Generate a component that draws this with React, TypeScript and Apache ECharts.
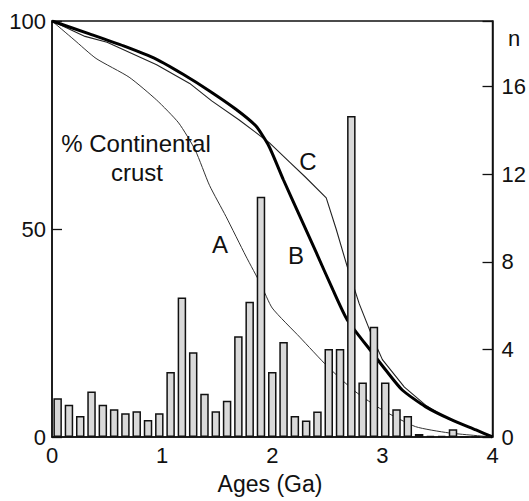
import React, { useEffect, useRef } from "react";
import * as echarts from "echarts";

// Histogram bins (Ga) and counts n
const ageBins = [
  "0.0","0.1","0.2","0.3","0.4","0.5","0.6","0.7","0.8","0.9",
  "1.0","1.1","1.2","1.3","1.4","1.5","1.6","1.7","1.8","1.9",
  "2.0","2.1","2.2","2.3","2.4","2.5","2.6","2.7","2.8","2.9",
  "3.0","3.1","3.2","3.3","3.4","3.5","3.6","3.7","3.8",
];
const counts = [
  1.77, 1.47, 0.96, 2.08, 1.47, 1.27, 1.09, 1.18, 0.78, 1.09,
  2.97, 6.37, 3.87, 1.97, 1.18, 1.66, 4.6, 6.18, 10.97, 2.97,
  4.34, 0.96, 0.75, 1.16, 4.02, 4.02, 14.66, 2.49, 5.03, 2.49,
  1.27, 0.96, 0.14, 0.05, 0.05, 0.35, 0, 0, 0,
];

// % continental crust curves [age Ga, %]
const curveA = [
  [0, 100], [0.2, 95.5], [0.4, 91], [0.7, 86.5], [0.95, 81], [1.15, 75.5],
  [1.3, 69], [1.43, 60.5], [1.58, 53], [1.76, 43.5], [1.9, 36.5],
  [2.0, 31], [2.25, 24], [2.5, 17], [2.75, 11], [3.0, 6.5], [3.3, 2.5],
  [3.6, 1], [4, 0],
];
const curveB = [
  [0, 100], [0.34, 96.9], [0.65, 94], [0.95, 90.8], [1.19, 87.2],
  [1.43, 83.2], [1.67, 78.8], [1.85, 74.8], [1.97, 69.9], [2.1, 61.9],
  [2.25, 53.1], [2.4, 44.3], [2.55, 35.4], [2.68, 28.2], [2.91, 20.2],
  [3.03, 16.1], [3.18, 11.3], [3.39, 7.3], [3.63, 4.1], [3.85, 1.7], [4, 0],
];
const curveC = [
  [0, 100], [0.3, 96.3], [0.5, 94.9], [0.95, 89.5], [1.25, 85], [1.45, 80.8],
  [1.7, 76.2], [1.97, 70.8], [2.16, 66], [2.3, 62.5], [2.49, 57.5],
  [2.58, 50], [2.68, 41], [2.79, 32], [2.91, 24], [3.0, 18.6], [3.2, 12],
  [3.4, 7.5], [3.6, 4.3], [3.85, 1.7], [4, 0],
];

const FONT = "'Liberation Sans', Arial, Helvetica, sans-serif";

export default function App() {
  const ref = useRef<HTMLDivElement>(null);
  useEffect(() => {
    if (!ref.current) return;
    const chart = echarts.init(ref.current, undefined, { renderer: "svg" });
    const lineCommon = {
      type: "line",
      xAxisIndex: 0,
      yAxisIndex: 0,
      showSymbol: false,
      symbol: "none",
      z: 1,
    };
    const txt = (text: string, x: number, y: number, size: number) => ({
      type: "text",
      x,
      y,
      z: 10,
      style: { text, font: `${size}px ${FONT}`, fill: "#111", textAlign: "center", textVerticalAlign: "middle" },
    });
    chart.setOption({
      animation: false,
      backgroundColor: "#ffffff",
      grid: {
        left: 52,
        right: 34,
        top: 21,
        bottom: 64,
        show: true,
        borderColor: "#111",
        borderWidth: 1.5,
      },
      xAxis: [
        {
          type: "value",
          min: 0,
          max: 4,
          interval: 1,
          axisLine: { show: true, lineStyle: { color: "#111", width: 1.5 } },
          axisTick: { show: false },
          splitLine: { show: false },
          axisLabel: { color: "#111", fontSize: 22, fontFamily: FONT, margin: 7 },
        },
        {
          type: "category",
          data: ageBins,
          show: false,
          boundaryGap: true,
        },
      ],
      yAxis: [
        {
          type: "value",
          min: 0,
          max: 100,
          interval: 50,
          position: "left",
          axisLine: { show: true, lineStyle: { color: "#111", width: 1.5 } },
          axisTick: { show: true, inside: true, length: 10, lineStyle: { color: "#111", width: 1.3 } },
          splitLine: { show: false },
          axisLabel: { color: "#111", fontSize: 22, fontFamily: FONT, margin: 6 },
        },
        {
          type: "value",
          min: 0,
          max: 19,
          interval: 4,
          position: "right",
          axisLine: { show: true, lineStyle: { color: "#111", width: 1.5 } },
          axisTick: { show: true, inside: true, length: 10, lineStyle: { color: "#111", width: 1.3 } },
          splitLine: { show: false },
          axisLabel: {
            color: "#111",
            fontSize: 22,
            fontFamily: FONT,
            margin: 9,
            formatter: (v: number) => (v % 4 === 0 ? String(v) : ""),
          },
        },
      ],
      series: [
        { ...lineCommon, name: "A", smooth: 0.2, data: curveA, lineStyle: { color: "#333", width: 1 } },
        { ...lineCommon, name: "C", data: curveC, lineStyle: { color: "#222", width: 1.1 } },
        { ...lineCommon, name: "B", smooth: 0.2, data: curveB, lineStyle: { color: "#000", width: 3 } },
        {
          type: "bar",
          name: "n",
          xAxisIndex: 1,
          yAxisIndex: 1,
          data: counts,
          barWidth: 8.5,
          z: 3,
          itemStyle: { color: "#d9d9d9", borderColor: "#111", borderWidth: 1.5 },
        },
      ],
      graphic: [
        txt("% Continental", 136, 143, 24),
        txt("crust", 137, 172, 24),
        txt("A", 220, 244, 24),
        txt("B", 296, 255, 24),
        txt("C", 308, 161, 24),
        txt("n", 514, 38, 22),
        txt("Ages (Ga)", 270, 484, 23),
      ],
    });
    return () => chart.dispose();
  }, []);
  return <div ref={ref} style={{ width: 529, height: 501, position: "absolute", left: 0, top: 0 }} />;
}
